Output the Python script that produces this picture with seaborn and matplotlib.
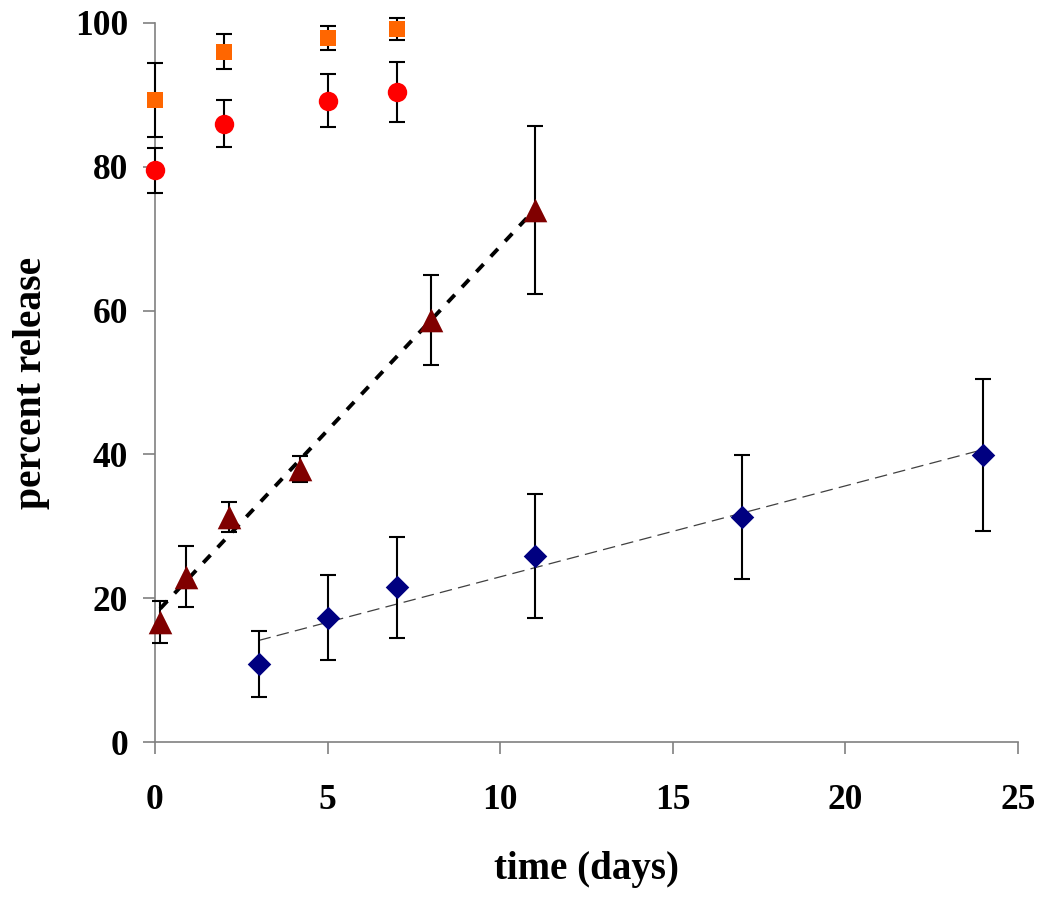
import numpy as np
import pandas as pd
import seaborn as sns
import matplotlib
import matplotlib.pyplot as plt

matplotlib.use("Agg")

# series (time in days, percent release, +/- error)
sq_t = [0.0, 2.0, 5.0, 7.0]
sq_v = [89.3, 96.0, 97.9, 99.2]
sq_e = [5.2, 2.4, 1.7, 1.5]

circ_t = [0.0, 2.0, 5.0, 7.0]
circ_v = [79.5, 86.0, 89.2, 90.4]
circ_e = [3.1, 3.3, 3.7, 4.2]

tri_t = [0.15, 0.9, 2.15, 4.2, 8.0, 11.0]
tri_v = [16.7, 23.0, 31.3, 38.0, 58.7, 74.0]
tri_e = [2.9, 4.2, 2.1, 1.8, 6.2, 11.7]

dia_t = [3.0, 5.0, 7.0, 11.0, 17.0, 24.0]
dia_v = [10.8, 17.3, 21.5, 25.9, 31.3, 39.9]
dia_e = [4.6, 5.9, 7.0, 8.6, 8.6, 10.6]

x_ticks = [0, 5, 10, 15, 20, 25]
y_ticks = [0, 20, 40, 60, 80, 100]

sns.set_theme(style="white")
plt.rcParams["font.family"] = ["Liberation Serif", "DejaVu Serif"]
plt.rcParams["font.weight"] = "bold"

fig = plt.figure(figsize=(10.5, 8.98), dpi=100)
ax = fig.add_axes([0.1476, 0.1737, 0.8219, 0.8007])

df_tri = pd.DataFrame({"t": tri_t, "v": tri_v})
df_dia = pd.DataFrame({"t": dia_t, "v": dia_v})

# linear trend lines
sns.regplot(data=df_tri, x="t", y="v", scatter=False, ci=None, truncate=True, ax=ax,
            line_kws=dict(color="black", lw=2.8, dashes=(2.7, 2.7), zorder=2))
sns.regplot(data=df_dia, x="t", y="v", scatter=False, ci=None, truncate=True, ax=ax,
            line_kws=dict(color="#404040", lw=0.9, dashes=(10, 5), zorder=2))

series = [
    (sq_t, sq_v, sq_e, "s", "#FF6600", 12),
    (circ_t, circ_v, circ_e, "o", "#FF0000", 14),
    (tri_t, tri_v, tri_e, "^", "#800000", 17),
    (dia_t, dia_v, dia_e, "D", "#000080", 12),
]
for t, v, e, mk, col, ms in series:
    ax.errorbar(t, v, yerr=e, fmt="none", ecolor="black", elinewidth=1.5,
                capsize=5.5, capthick=1.5, zorder=3, clip_on=False)
    sns.scatterplot(x=t, y=v, marker=mk, color=col, s=ms ** 2, linewidth=0,
                    ax=ax, zorder=4, clip_on=False)

ax.set_xlim(0, 25)
ax.set_ylim(0, 100)
ax.set_xticks(x_ticks)
ax.set_yticks(y_ticks)
ax.set_xticklabels([str(x) for x in x_ticks])
ax.set_yticklabels([str(y) for y in y_ticks])

for side in ["top", "right"]:
    ax.spines[side].set_visible(False)
for side in ["left", "bottom"]:
    ax.spines[side].set_color("#808080")
    ax.spines[side].set_linewidth(1.2)

ax.tick_params(axis="both", which="major", direction="out", length=8.5, width=1.2,
               color="#808080", labelsize=25.5, labelcolor="black",
               bottom=True, left=True)
ax.tick_params(axis="x", pad=22)
ax.tick_params(axis="y", pad=11)
for lab in ax.get_xticklabels() + ax.get_yticklabels():
    lab.set_fontweight("bold")

ax.set_xlabel("time (days)", fontsize=28, fontweight="bold", color="black", labelpad=24)
ax.set_ylabel("percent release", fontsize=28.5, fontweight="bold", color="black", labelpad=18)

fig.savefig("out.png", dpi=100, facecolor="white")
